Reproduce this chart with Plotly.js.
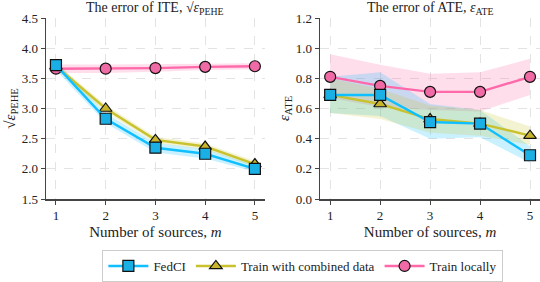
<!DOCTYPE html>
<html><head><meta charset="utf-8">
<script src="https://cdn.plot.ly/plotly-3.0.1.min.js"></script>
<style>body{margin:0;padding:0;background:#fff}#c{width:540px;height:282px}</style>
</head><body><div id="c"></div>
<script>
const m = [1, 2, 3, 4, 5];
// ITE (sqrt PEHE)
const iteFed = [3.72, 2.83, 2.35, 2.25, 2.00];
const iteFedLo = [3.64, 2.76, 2.27, 2.17, 1.95];
const iteFedHi = [3.78, 2.92, 2.43, 2.33, 2.06];
const iteComb = [3.70, 3.00, 2.48, 2.37, 2.08];
const iteCombLo = [3.65, 2.94, 2.43, 2.32, 2.03];
const iteCombHi = [3.75, 3.06, 2.53, 2.42, 2.13];
const iteLoc = [3.66, 3.66, 3.67, 3.69, 3.70];
const iteLocLo = [3.59, 3.59, 3.61, 3.64, 3.65];
const iteLocHi = [3.73, 3.73, 3.73, 3.74, 3.75];
// ATE
const ateFed = [0.69, 0.69, 0.51, 0.50, 0.29];
const ateFedLo = [0.57, 0.55, 0.40, 0.41, 0.24];
const ateFedHi = [0.81, 0.84, 0.63, 0.59, 0.35];
const ateComb = [0.69, 0.63, 0.53, 0.50, 0.42];
const ateCombLo = [0.57, 0.53, 0.44, 0.42, 0.36];
const ateCombHi = [0.80, 0.73, 0.62, 0.59, 0.48];
const ateLoc = [0.81, 0.75, 0.71, 0.71, 0.81];
const ateLocLo = [0.67, 0.61, 0.59, 0.58, 0.69];
const ateLocHi = [0.96, 0.89, 0.83, 0.84, 0.93];
const names = ["FedCI", "Train with combined data", "Train locally"];

const colFed = "#0fbfff", colComb = "#c9c22f", colLoc = "#ff69aa";
const fillFed = "rgba(15,191,255,0.22)", fillComb = "rgba(201,194,47,0.22)", fillLoc = "rgba(255,105,170,0.22)";
const mFed = "#1ab0e6", mComb = "#c8b52c", mLoc = "#f06aa6";

function band(lo, hi, fill, xa, ya) {
  return {x: m.concat(m.slice().reverse()), y: lo.concat(hi.slice().reverse()),
    fill: "toself", fillcolor: fill, line: {width: 0}, mode: "lines",
    hoverinfo: "skip", showlegend: false, xaxis: xa, yaxis: ya};
}
function line(y, col, mcol, sym, name, xa, ya, show) {
  return {x: m, y: y, mode: "lines+markers", name: name, showlegend: show,
    line: {color: col, width: 2.4},
    marker: {symbol: sym, size: 11, color: mcol, line: {color: "#111", width: 1.2}},
    xaxis: xa, yaxis: ya, cliponaxis: false};
}
const data = [
  band(iteLocLo, iteLocHi, fillLoc, "x", "y"),
  band(iteCombLo, iteCombHi, fillComb, "x", "y"),
  band(iteFedLo, iteFedHi, fillFed, "x", "y"),
  band(ateLocLo, ateLocHi, fillLoc, "x2", "y2"),
  band(ateFedLo, ateFedHi, fillFed, "x2", "y2"),
  band(ateCombLo, ateCombHi, fillComb, "x2", "y2"),
  line(iteLoc, colLoc, mLoc, "circle", names[2], "x", "y", false),
  line(iteComb, colComb, mComb, "triangle-up", names[1], "x", "y", false),
  line(iteFed, colFed, mFed, "square", names[0], "x", "y", false),
  line(ateLoc, colLoc, mLoc, "circle", names[2], "x2", "y2", false),
  line(ateComb, colComb, mComb, "triangle-up", names[1], "x2", "y2", false),
  line(ateFed, colFed, mFed, "square", names[0], "x2", "y2", false),
  Object.assign(line([null], colFed, mFed, "square", names[0], "x", "y", true), {x: [null]}),
  Object.assign(line([null], colComb, mComb, "triangle-up", names[1], "x", "y", true), {x: [null]}),
  Object.assign(line([null], colLoc, mLoc, "circle", names[2], "x", "y", true), {x: [null]})
];
const font = {family: "Liberation Serif, DejaVu Serif, serif", size: 13, color: "#222"};
function xax(dom, anchor) {
  return {domain: dom, anchor: anchor, range: [0.8, 5.2], tickvals: m, ticktext: m.map(String),
    showline: true, linecolor: "#444", linewidth: 1.5, ticks: "outside", ticklen: 4, tickcolor: "#444",
    showgrid: true, gridcolor: "#e3e3e3", griddash: "dash", zeroline: false,
    title: {text: "Number of sources, <i>m</i>", font: {size: 15}, standoff: 4}, tickfont: {size: 13}};
}
function yax(range, dtick, anchor, title) {
  return {range: range, dtick: dtick, anchor: anchor, tickformat: ".1f",
    showline: true, linecolor: "#444", linewidth: 1.5, ticks: "outside", ticklen: 4, tickcolor: "#444",
    showgrid: true, gridcolor: "#e3e3e3", griddash: "dash", zeroline: false,
    title: {text: title, font: {size: 15}, standoff: 2}, tickfont: {size: 13}};
}
const layout = {
  width: 540, height: 282, margin: {l: 46, r: 0, t: 18, b: 75},
  paper_bgcolor: "#fff", plot_bgcolor: "#fff", font: font,
  xaxis: xax([0, 0.443], "y"), xaxis2: xax([0.555, 1], "y2"),
  yaxis: yax([1.5, 4.5], 0.5, "x", "√<i>ε</i><sub>PEHE</sub>"),
  yaxis2: yax([0, 1.2], 0.2, "x2", "<i>ε</i><sub>ATE</sub>"),
  showlegend: true,
  legend: {orientation: "h", x: 0.52, xanchor: "center", y: -0.285, yanchor: "top",
    bordercolor: "#ccc", borderwidth: 1, font: {size: 13}, itemwidth: 40, tracegroupgap: 0},
  annotations: [
    {text: "The error of ITE, √<i>ε</i><sub>PEHE</sub>", xref: "x domain", yref: "paper", x: 0.5, y: 1.0, yanchor: "bottom", yshift: -1, showarrow: false, font: {size: 14}},
    {text: "The error of ATE, <i>ε</i><sub>ATE</sub>", xref: "x2 domain", yref: "paper", x: 0.5, y: 1.0, yanchor: "bottom", yshift: -1, showarrow: false, font: {size: 14}}
  ]
};
Plotly.newPlot("c", data, layout, {staticPlot: true});
</script></body></html>
